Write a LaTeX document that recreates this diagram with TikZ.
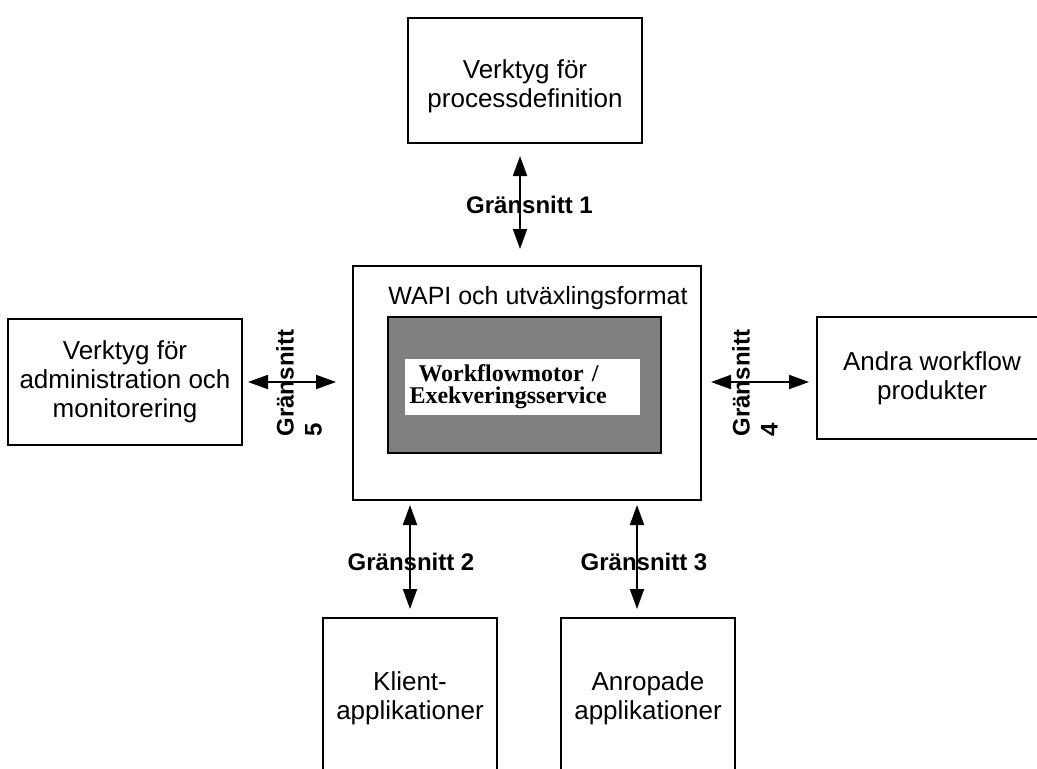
\documentclass[tikz,border=0pt]{standalone}
\usepackage{fontspec}
\setmainfont{Liberation Sans}
\newfontfamily\enginefont{Liberation Serif}
\usetikzlibrary{arrows.meta, positioning}

\begin{document}
\begin{tikzpicture}[
    x=0.5pt, y=-0.5pt,
    box/.style={
        rectangle,
        draw,
        line width=1pt,
        inner sep=0pt,
        align=center,
        font=\fontsize{13}{14.5}\selectfont
    },
    tag/.style={
        inner sep=0pt,
        font=\fontsize{12}{14}\selectfont\bfseries
    },
    link/.style={
        {Triangle[length=10pt, width=7pt]}-{Triangle[length=10pt, width=7pt]},
        line width=1pt
    }
]
\path[use as bounding box, clip] (0,0) rectangle (1037,768);
\fill[white] (0,0) rectangle (1037,768);

% Nodes
\node[box, minimum width=117pt, minimum height=62.5pt] (define) at (525,80.5) {\rule{0pt}{15pt}Verktyg för\\processdefinition};
\node[box, minimum width=174pt, minimum height=117pt] (engine) at (527,383) {};
\node[box, fill=gray, minimum width=136.5pt, minimum height=68pt] (core) at (524.5,385) {};
\node[fill=white, minimum width=117.5pt, minimum height=28pt, text width=113pt, align=left, inner sep=0pt,
      font=\enginefont\bfseries\fontsize{12}{11}\selectfont] (motor) at (522.5,387) {\hspace*{4.5pt}Workflowmotor /\\Exekveringsservice};
\node[anchor=base west, inner sep=0pt, font=\fontsize{12.5}{14}\selectfont] (wapi) at (388,304) {WAPI och utväxlingsformat};
\node[box, minimum width=117pt, minimum height=63pt] (admin) at (125,382) {Verktyg för\\administration och\\monitorering};
\node[box, minimum width=115pt, minimum height=61pt] (other) at (932,378) {Andra workflow\\produkter};
\node[box, minimum width=87pt, minimum height=80pt] (client) at (410,698) {Klient-\\applikationer};
\node[box, minimum width=87pt, minimum height=80pt] (called) at (648,698) {Anropade\\applikationer};

% Labels
\node[tag] (if1) at (529.5,205) {Gränsnitt 1};
\node[tag] (if2) at (411,562) {Gränsnitt 2};
\node[tag] (if3) at (644,562) {Gränsnitt 3};
\node[tag, rotate=90, align=left] (if5) at (299,383) {Gränsnitt\\5};
\node[tag, rotate=90, align=left] (if4) at (755,383) {Gränsnitt\\4};

% Arrows
\draw[link, shorten <=6pt, shorten >=8pt] ([xshift=-2.5pt]define.south) -- ([xshift=-2.5pt]define.south |- engine.north);
\draw[link, shorten <=2pt, shorten >=4pt] (engine.south -| client) -- (client.north);
\draw[link, shorten <=2pt, shorten >=4pt] ([xshift=-5.5pt]called.north |- engine.south) -- ([xshift=-5.5pt]called.north);
\draw[link, shorten <=4.5pt, shorten >=3.5pt] (engine.east |- admin) -- (other.west |- admin);
\draw[link, shorten <=2.5pt, shorten >=8pt] (admin.east) -- (engine.west |- admin);
\end{tikzpicture}
\end{document}
